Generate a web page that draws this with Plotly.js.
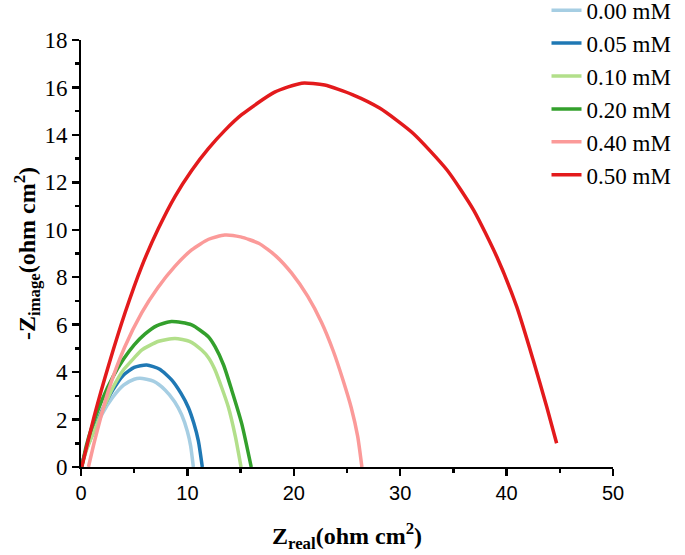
<!DOCTYPE html>
<html>
<head>
<meta charset="utf-8">
<script src="https://cdn.plot.ly/plotly-3.0.1.min.js"></script>
<style>html,body{margin:0;padding:0;background:#fff;}#chart{width:685px;height:555px;}</style>
</head>
<body>
<div id="chart"></div>
<script>
const seriesNames = ["0.00 mM", "0.05 mM", "0.10 mM", "0.20 mM", "0.40 mM", "0.50 mM"];
const seriesColors = ["#a6cee3", "#1f78b4", "#b2df8a", "#33a02c", "#fb9a99", "#e31a1c"];

const zr000 = [0, 0.5, 1, 1.94, 3, 4, 5, 5.55, 6.8, 7.9, 8.8, 9.46, 10.0, 10.3, 10.56];
const zi000 = [0, 0.75, 1.3, 2.2, 2.95, 3.45, 3.7, 3.74, 3.62, 3.25, 2.75, 2.2, 1.5, 0.9, 0];

const zr005 = [0, 0.5, 1, 2, 3, 4, 5, 6.17, 7.4, 8.52, 9.4, 10.1, 10.6, 11.03, 11.4];
const zi005 = [0, 0.75, 1.3, 2.4, 3.25, 3.88, 4.2, 4.3, 4.12, 3.67, 3.1, 2.5, 1.85, 1.1, 0];

const zr010 = [0.05, 0.5, 1, 2, 3, 4, 5, 5.7, 7.3, 8.83, 10.2, 11.34, 12.0, 12.6, 13.84, 14.5, 15.04];
const zi010 = [0, 0.7, 1.27, 2.35, 3.35, 4.1, 4.6, 4.93, 5.3, 5.42, 5.3, 4.93, 4.6, 4.09, 2.54, 1.3, 0];

const zr020 = [0.07, 0.5, 1, 2, 3, 4, 5, 6, 7.1, 8.5, 10.4, 11.97, 12.6, 13.4, 14.16, 15.1, 16.0];
const zi020 = [0, 0.9, 1.65, 2.85, 3.8, 4.55, 5.15, 5.6, 5.95, 6.13, 5.99, 5.49, 5.07, 4.3, 3.25, 1.84, 0];

const zr040 = [0.7, 1.3, 2.6, 4.1, 5.7, 7.2, 8.8, 10.4, 12, 13.5, 15, 16.7, 18.3, 19.8, 21.3, 22.6, 23.7, 24.6, 25.4, 26.0, 26.4];
const zi040 = [0, 1.14, 3.25, 5.05, 6.5, 7.55, 8.45, 9.15, 9.6, 9.78, 9.7, 9.43, 8.9, 8.17, 7.2, 6.1, 4.9, 3.7, 2.5, 1.3, 0];

const zr050 = [0.07, 1.32, 2.57, 4.14, 5.7, 7.27, 8.83, 10.4, 11.97, 13.5, 15.1, 18.2, 20.74, 22.9, 25.5, 28.1, 31.2, 34.4, 36.9, 39.07, 40.95, 42.5, 43.77, 44.7];
const zi050 = [0, 2.27, 4.25, 6.5, 8.45, 10.05, 11.4, 12.5, 13.42, 14.18, 14.85, 15.8, 16.18, 16.1, 15.7, 15.12, 14.07, 12.52, 10.83, 8.87, 6.76, 4.51, 2.54, 1.0];

const xs = [zr000, zr005, zr010, zr020, zr040, zr050];
const ys = [zi000, zi005, zi010, zi020, zi040, zi050];

const traces = seriesNames.map((name, i) => ({
  type: 'scatter',
  mode: 'lines',
  name: name,
  x: xs[i],
  y: ys[i],
  line: {color: seriesColors[i], width: 3.5, shape: 'spline', smoothing: 0.6}
}));

const serif = 'Liberation Serif, Times New Roman, serif';
const sans = 'Liberation Sans, Arial, sans-serif';

const layout = {
  width: 685,
  height: 555,
  margin: {l: 81, r: 72, t: 40, b: 88, autoexpand: false},
  paper_bgcolor: '#fff',
  plot_bgcolor: '#fff',
  showlegend: true,
  legend: {
    x: 0.875, y: 1.12, xanchor: 'left', yanchor: 'top',
    bgcolor: 'rgba(0,0,0,0)', borderwidth: 0,
    font: {family: serif, size: 23, color: '#000'},
    tracegroupgap: 0,
    itemwidth: 30
  },
  xaxis: {
    range: [0, 50],
    dtick: 10,
    tick0: 0,
    showgrid: false,
    zeroline: false,
    showline: true,
    linecolor: '#000',
    linewidth: 2,
    ticks: 'outside',
    ticklen: 7,
    tickwidth: 2.5,
    tickcolor: '#000',
    minor: {dtick: 5, ticks: 'outside', ticklen: 4, tickwidth: 2.5, tickcolor: '#000', showgrid: false},
    tickfont: {family: sans, size: 20, color: '#000'},
    title: {
      text: '<b>Z<sub>real</sub>(ohm cm<sup>2</sup>)</b>',
      font: {family: serif, size: 24, color: '#000'},
      standoff: 24
    }
  },
  yaxis: {
    range: [0, 18],
    dtick: 2,
    tick0: 0,
    showgrid: false,
    zeroline: false,
    showline: true,
    linecolor: '#000',
    linewidth: 2,
    ticks: 'outside',
    ticklen: 7,
    tickwidth: 2.5,
    tickcolor: '#000',
    minor: {dtick: 1, ticks: 'outside', ticklen: 4, tickwidth: 2.5, tickcolor: '#000', showgrid: false},
    tickfont: {family: serif, size: 23, color: '#000'},
    title: {
      text: '<b>-Z<sub>image</sub>(ohm cm<sup>2</sup>)</b>',
      font: {family: serif, size: 24, color: '#000'},
      standoff: 0
    }
  }
};

Plotly.newPlot('chart', traces, layout, {displayModeBar: false, staticPlot: true});
</script>
</body>
</html>
